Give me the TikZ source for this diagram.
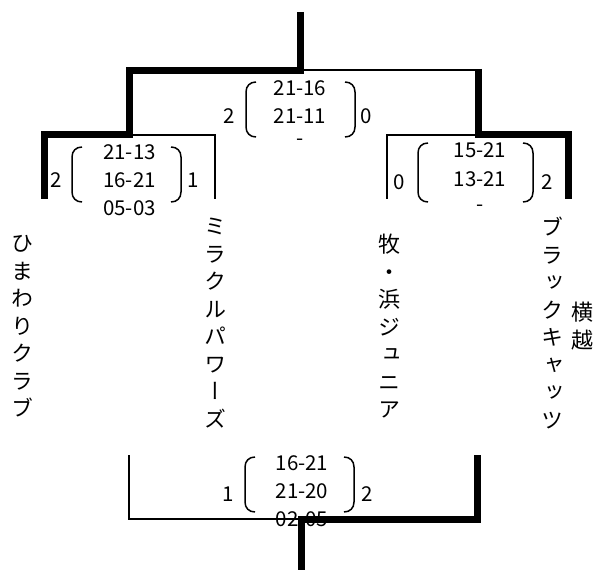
\documentclass[tikz,border=0pt]{standalone}
\usepackage{fontspec}
\setmainfont{Noto Sans CJK JP}
\newfontfamily\jpv[RawFeature=+vert]{Noto Sans CJK JP}
\begin{document}
\begin{tikzpicture}[x=1pt,y=-1pt,
  winline/.style={line width=7pt, line join=miter, line cap=butt},
  loseline/.style={line width=2pt, line join=miter},
  parenline/.style={line width=1.5pt},
  score/.style={font=\fontsize{20.5}{20}\selectfont, inner sep=0pt, anchor=base},
  team/.style={font=\jpv\fontsize{22}{27.5}\selectfont, align=center, inner sep=0pt}]
\useasboundingbox (0,0) rectangle (595,572);

% ---- team names (vertical) ----
\node[team] (t1) at (23,326.5) {ひ\\ま\\わ\\り\\ク\\ラ\\ブ};
\node[team] (t2) at (215,323) {ミ\\ラ\\ク\\ル\\パ\\ワ\\ー\\ズ};
\node[team] (t3) at (389,326.5) {牧\\・\\浜\\ジ\\ュ\\ニ\\ア};
\node[team] (t4) at (552,323) {ブ\\ラ\\ッ\\ク\\キ\\ャ\\ッ\\ツ};
\node[team] (t4b) at (582,326) {横\\越};

% ---- final scores ----
\node[score] (f1) at (300,95.5) {21-16};
\node[score] (f2) at (300,123.5) {21-11};
\node[score] (f3) at (300,146) {-};
\node[score] (fa) at (229,123.5) {2};
\node[score] (fb) at (366,123.5) {0};
\draw[parenline] (256,82) .. controls (250,82) and (246,86) .. (246,92) -- (246,127) .. controls (246,133) and (250,137) .. (256,137);
\draw[parenline] (345,82) .. controls (351,82) and (355,86) .. (355,92) -- (355,127) .. controls (355,133) and (351,137) .. (345,137);

% ---- left semifinal ----
\node[score] (l1) at (129.5,160) {21-13};
\node[score] (l2) at (129.5,188) {16-21};
\node[score] (l3) at (129.5,216) {05-03};
\node[score] (la) at (56,188) {2};
\node[score] (lb) at (193.5,188) {1};
\draw[parenline] (82,147) .. controls (76,147) and (72,151) .. (72,157) -- (72,192) .. controls (72,198) and (76,202) .. (82,202);
\draw[parenline] (171,147) .. controls (177,147) and (181,151) .. (181,157) -- (181,192) .. controls (181,198) and (177,202) .. (171,202);

% ---- right semifinal ----
\node[score] (r1) at (480,157.5) {15-21};
\node[score] (r2) at (480,186.5) {13-21};
\node[score] (r3) at (480,212) {-};
\node[score] (ra) at (399,189.5) {0};
\node[score] (rb) at (547,189.5) {2};
\draw[parenline] (428,143) .. controls (422,143) and (418,147) .. (418,153) -- (418,192) .. controls (418,198) and (422,202) .. (428,202);
\draw[parenline] (523,143) .. controls (529,143) and (533,147) .. (533,153) -- (533,192) .. controls (533,198) and (529,202) .. (523,202);

% ---- third place ----
\node[score] (b1) at (302,470) {16-21};
\node[score] (b2) at (302,498) {21-20};
\node[score] (b3) at (302,526) {02-05};
\node[score] (ba) at (228.5,501.5) {1};
\node[score] (bb) at (367.5,501.5) {2};
\draw[parenline] (255,457) .. controls (249,457) and (245,461) .. (245,467) -- (245,502) .. controls (245,508) and (249,512) .. (255,512);
\draw[parenline] (344,457) .. controls (350,457) and (354,461) .. (354,467) -- (354,502) .. controls (354,508) and (350,512) .. (344,512);

% ---- bracket coordinates ----
\coordinate (top) at (300.5,12);
\coordinate (fj) at (300.5,70.5);
\coordinate (sfL) at (129.5,70.5);
\coordinate (sfR) at (478,70.5);
\coordinate (sfRt) at (478,69);
\coordinate (sfLj) at (129.5,135);
\coordinate (sfRj) at (478,135);
\coordinate (hL1) at (44,135);
\coordinate (hL1b) at (44,199);
\coordinate (hL2) at (215,135);
\coordinate (hL2b) at (215,199);
\coordinate (hR1) at (387,135);
\coordinate (hR1b) at (387,199);
\coordinate (hR2) at (568,135);
\coordinate (hR2b) at (568,199);
\coordinate (bL) at (129,455);
\coordinate (bLj) at (129,519);
\coordinate (bj) at (301,519);
\coordinate (bR) at (477,455);
\coordinate (bRj) at (477,519);
\coordinate (bot) at (301,570);

% ---- bracket lines ----
\draw[loseline] (fj) -- (sfR);
\draw[loseline] (sfLj) -- (hL2) -- (hL2b);
\draw[loseline] (hR1b) -- (hR1) -- (sfRj);
\draw[loseline] (bL) -- (bLj) -- (bj);
\draw[winline] (top) -- (fj) -- (sfL) -- (sfLj) -- (hL1) -- (hL1b);
\draw[winline] (sfRt) -- (sfRj) -- (hR2) -- (hR2b);
\draw[winline] (bR) -- (bRj) -- (bj) -- (bot);
\end{tikzpicture}
\end{document}
